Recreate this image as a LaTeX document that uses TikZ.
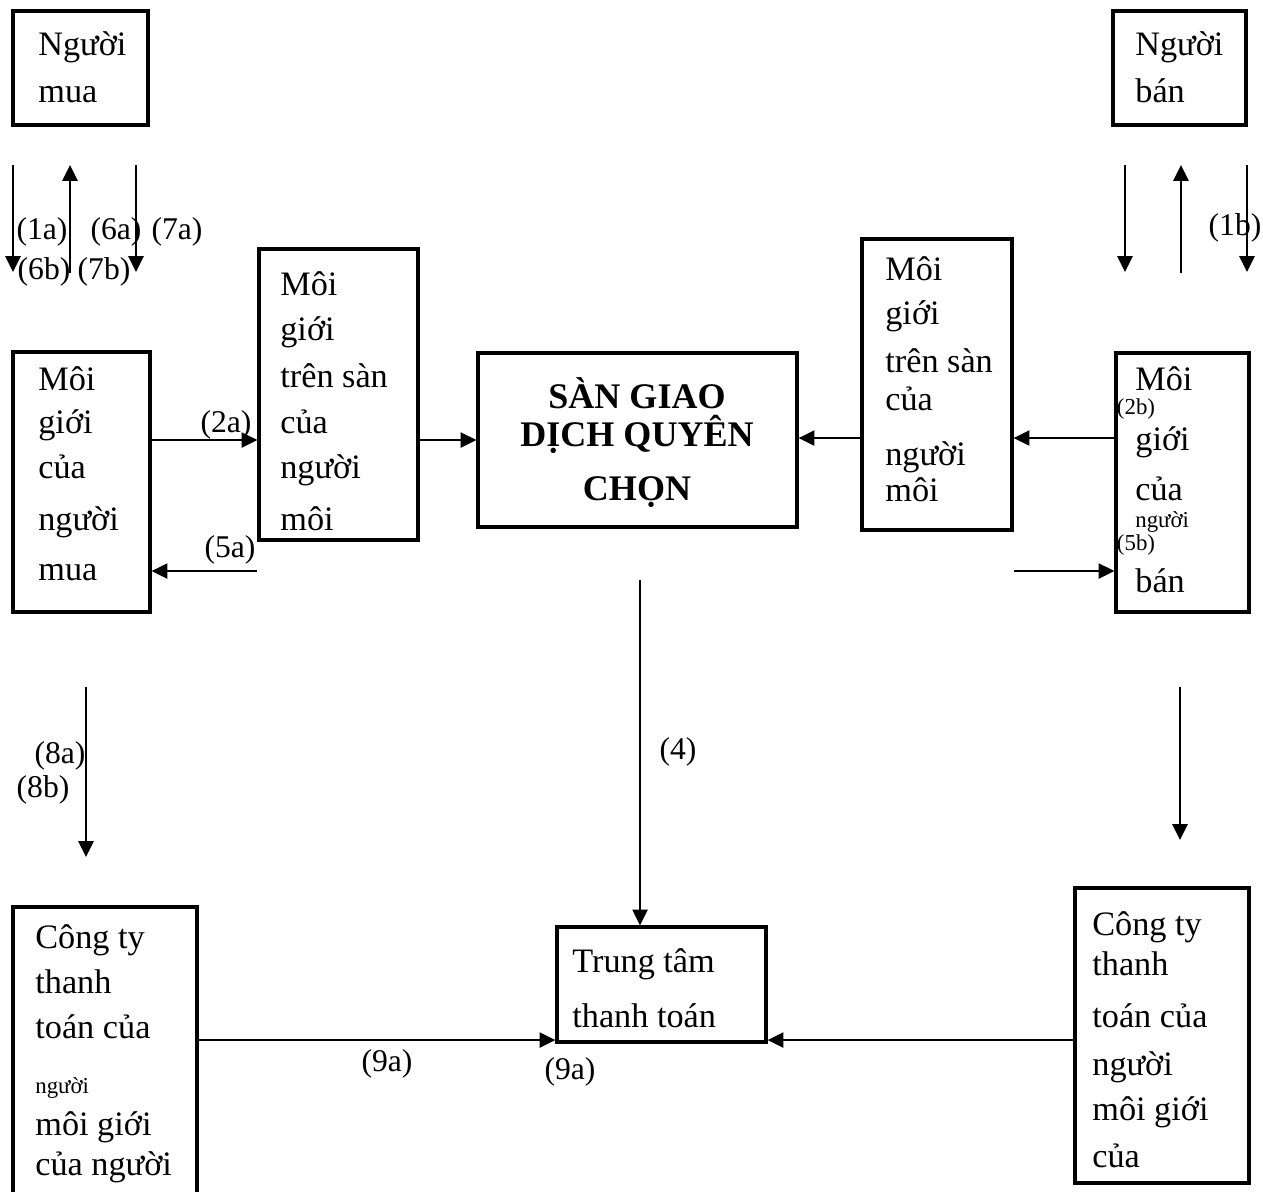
\documentclass[tikz,border=0pt]{standalone}
\usepackage{fontspec}
\setmainfont{Liberation Serif}
\usetikzlibrary{arrows.meta,fit}
\tikzset{
  box/.style={draw,line width=1.8pt,inner sep=0pt},
  line/.style={anchor=base west,inner sep=0pt,font=\fontsize{19.5}{22}\selectfont},
  small/.style={anchor=base west,inner sep=0pt,font=\fontsize{13}{15}\selectfont},
  lbl/.style={inner sep=0pt,font=\fontsize{18}{20}\selectfont},
  bold/.style={anchor=base,inner sep=0pt,font=\fontsize{20.5}{22}\selectfont\bfseries},
  arr/.style={-{Triangle[length=9pt,width=8.5pt]},line width=1.4pt},
}
\begin{document}
\begin{tikzpicture}[x=0.02cm,y=-0.02cm]
    \useasboundingbox (0,0) rectangle (1263,1191);
    \clip (0,0) rectangle (1263,1191);

    % boxes
    \node[box,fit={(13,11) (148,125)}] (buyer) {};
    \node[box,fit={(1113,11) (1246,125)}] (seller) {};
    \node[box,fit={(13,352) (150,612)}] (brokerL) {};
    \node[box,fit={(259,249) (418,540)}] (floorL) {};
    \node[box,fit={(478,353) (797,527)}] (exch) {};
    \node[box,fit={(862,239) (1012,530)}] (floorR) {};
    \node[box,fit={(1116,353) (1249,612)}] (brokerR) {};
    \node[box,fit={(13,907) (197,1210)}] (clearL) {};
    \node[box,fit={(557,927) (766,1042)}] (center) {};
    \node[box,fit={(1075,888) (1249,1183)}] (clearR) {};

    % texts in the boxes
    \foreach \t/\y [count=\i] in {Người/55,mua/102}
      \node[line] (buyer-\i) at (38,\y) {\t};
    \foreach \t/\y [count=\i] in {Người/55,bán/102}
      \node[line] (seller-\i) at (1135,\y) {\t};
    \foreach \t/\y [count=\i] in {Môi/390,giới/433,của/478,người/530,mua/580}
      \node[line] (brokerL-\i) at (38,\y) {\t};
    \foreach \t/\y [count=\i] in {Môi/295,giới/340,trên sàn/387,của/433,người/478,môi/530}
      \node[line] (floorL-\i) at (280,\y) {\t};
    \foreach \t/\y [count=\i] in {SÀN GIAO/408,DỊCH QUYÊN/446,CHỌN/500}
      \node[bold] (exch-\i) at (637,\y) {\t};
    \foreach \t/\y [count=\i] in {Môi/280,giới/324,trên sàn/372,của/410,người/465,môi/501}
      \node[line] (floorR-\i) at (885,\y) {\t};
    \foreach \t/\y [count=\i] in {Môi/390,giới/450,của/500,bán/592}
      \node[line] (brokerR-\i) at (1135,\y) {\t};
    \node[small] (brokerR-s) at (1135,527) {người};
    \foreach \t/\y [count=\i] in {Công ty/948,thanh/993,toán của/1038,môi giới/1135,của người/1175}
      \node[line] (clearL-\i) at (35,\y) {\t};
    \node[small] (clearL-s) at (35,1093) {người};
    \foreach \t/\y [count=\i] in {Trung tâm/972,thanh toán/1027}
      \node[line] (center-\i) at (572,\y) {\t};
    \foreach \t/\y [count=\i] in {Công ty/935,thanh/975,toán của/1027,người/1075,môi giới/1120,của/1167}
      \node[line] (clearR-\i) at (1092,\y) {\t};

    % free ends of the arrows in the gaps
    \coordinate (l1t) at (13,165);   \coordinate (l1b) at (13,272);
    \coordinate (l2t) at (70,165);   \coordinate (l2b) at (70,273);
    \coordinate (l3t) at (136,165);  \coordinate (l3b) at (136,272);
    \coordinate (r1t) at (1125,165); \coordinate (r1b) at (1125,272);
    \coordinate (r2t) at (1181,165); \coordinate (r2b) at (1181,273);
    \coordinate (r3t) at (1247,165); \coordinate (r3b) at (1247,272);
    \coordinate (d1t) at (86,687);   \coordinate (d1b) at (86,857);
    \coordinate (d2t) at (1180,687); \coordinate (d2b) at (1180,840);

    \draw[arr] (l1t) -- (l1b);
    \draw[arr] (l2b) -- (l2t);
    \draw[arr] (l3t) -- (l3b);
    \draw[arr] (r1t) -- (r1b);
    \draw[arr] (r2b) -- (r2t);
    \draw[arr] (r3t) -- (r3b);
    \draw[arr] (d1t) -- (d1b);
    \draw[arr] (d2t) -- (d2b);

    \draw[arr] (brokerL.east |- 0,440) -- (floorL.west |- 0,440);
    \draw[arr] (floorL.west |- 0,571) -- (brokerL.east |- 0,571);
    \draw[arr] (floorL.east |- 0,440) -- (exch.west |- 0,440);
    \draw[arr] (floorR.west |- 0,438) -- (exch.east |- 0,438);
    \draw[arr] (brokerR.west |- 0,438) -- (floorR.east |- 0,438);
    \draw[arr] (floorR.east |- 0,571) -- (brokerR.west |- 0,571);
    \draw[arr] (640,580) -- (center.north -| 640,0);
    \draw[arr] (clearL.east |- 0,1040) -- (center.west |- 0,1040);
    \draw[arr] (clearR.west |- 0,1040) -- (center.east |- 0,1040);

    % labels
    \node[lbl] (n1a) at (42,232) {(1a)};
    \node[lbl] (n6a) at (116,232) {(6a)};
    \node[lbl] (n7a) at (177,232) {(7a)};
    \node[lbl] (n6b) at (44,272) {(6b)};
    \node[lbl] (n7b) at (104,272) {(7b)};
    \node[lbl] (n1b) at (1235,228) {(1b)};
    \node[lbl] (n2a) at (226,425) {(2a)};
    \node[lbl] (n5a) at (230,550) {(5a)};
    \node[small,anchor=center] (n2b) at (1136,409) {(2b)};
    \node[small,anchor=center] (n5b) at (1136,545) {(5b)};
    \node[lbl] (n8a) at (60,756) {(8a)};
    \node[lbl] (n8b) at (43,790) {(8b)};
    \node[lbl] (n4) at (678,752) {(4)};
    \node[lbl] (n9a) at (387,1064) {(9a)};
    \node[lbl] (n9b) at (570,1072) {(9a)};
\end{tikzpicture}
\end{document}
